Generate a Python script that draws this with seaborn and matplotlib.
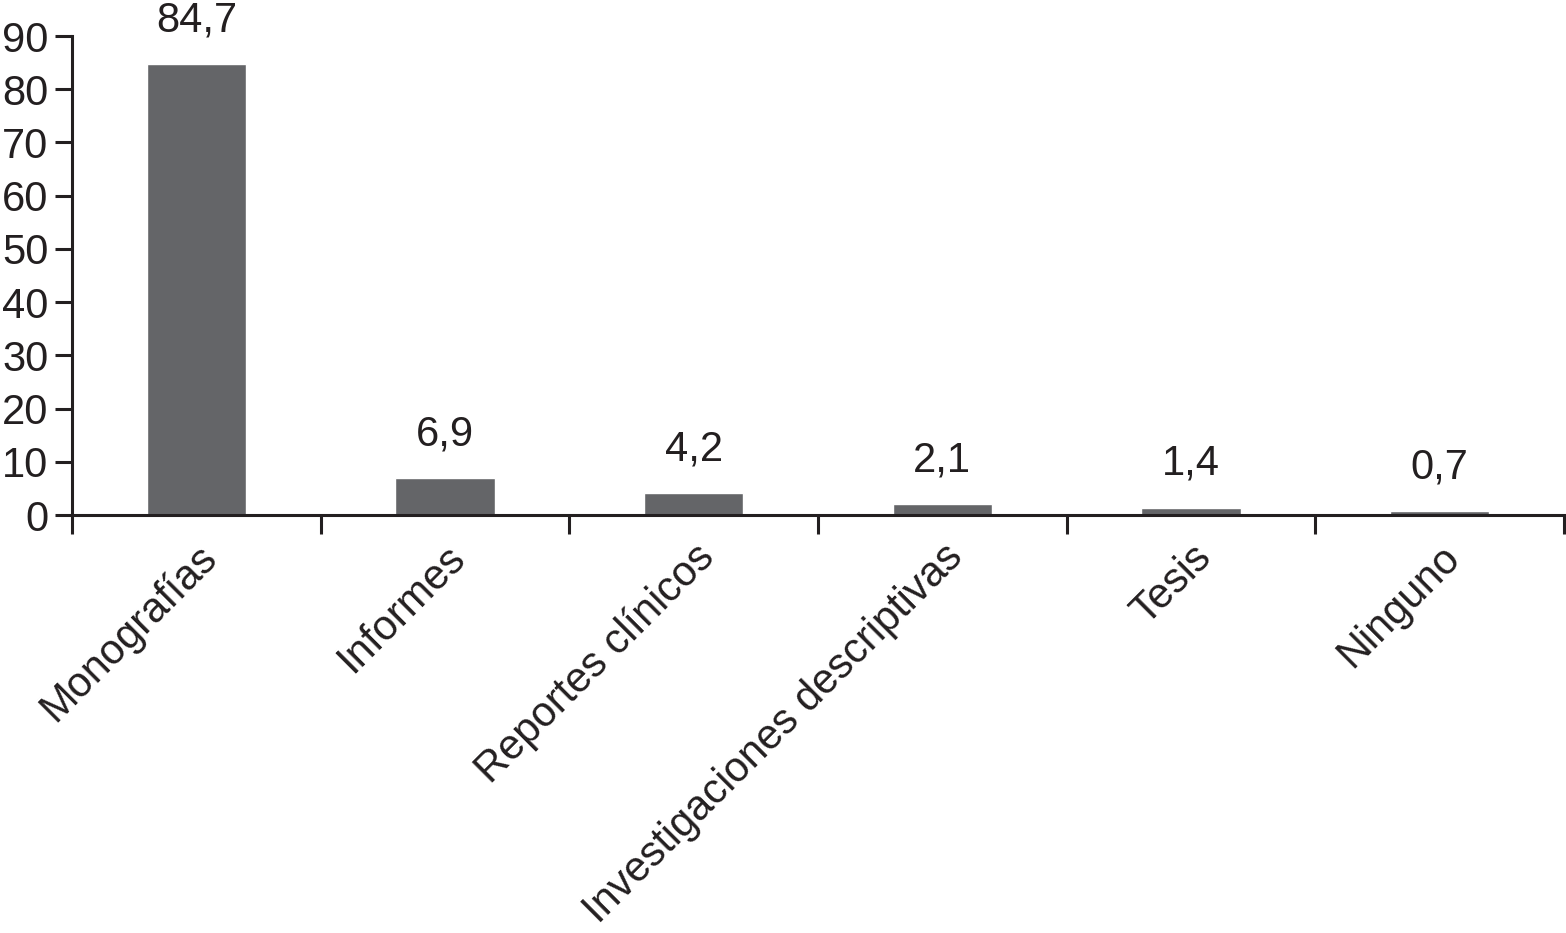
import matplotlib
matplotlib.use("Agg")
import matplotlib.pyplot as plt
import matplotlib.transforms as mtransforms
import seaborn as sns
import pandas as pd
import numpy as np

categorias = ["Monografías", "Informes", "Reportes clínicos",
              "Investigaciones descriptivas", "Tesis", "Ninguno"]
valores = [84.7, 6.9, 4.2, 2.1, 1.4, 0.7]
y_ticks = [0, 10, 20, 30, 40, 50, 60, 70, 80, 90]

sns.set_style("white")
plt.rcParams['font.family'] = ['Liberation Sans', 'DejaVu Sans']

df = pd.DataFrame({"categoria": categorias, "valor": valores})

fig = plt.figure(figsize=(15.66, 9.33), dpi=100)
ax = fig.add_axes([0.046, 0.448, 0.9527, 0.5134])

sns.barplot(data=df, x="categoria", y="valor", color="#646568",
            saturation=1, width=0.4, ax=ax)

ax.set_ylim(0, 90)
ax.set_xlim(-0.5, len(categorias) - 0.5)
ax.set_yticks(y_ticks)
ax.set_yticklabels([str(t) for t in y_ticks], fontsize=30, color="#231f20")
ax.set_xlabel("")
ax.set_ylabel("")

# etiquetas de categoria y ticks en los limites
ax.set_xticks(range(len(categorias)))
ax.set_xticklabels(categorias, rotation=45, ha="right",
                   rotation_mode="anchor", fontsize=30, color="#231f20")
desplazar = mtransforms.ScaledTranslation(10 / 100, 0, fig.dpi_scale_trans)
for lbl in ax.get_xticklabels():
    lbl.set_transform(lbl.get_transform() + desplazar)
ax.set_xticks(np.arange(-0.5, len(categorias), 1.0), minor=True)
ax.tick_params(axis="x", which="major", length=0, pad=16)
ax.tick_params(axis="x", which="minor", length=14, width=2.2,
               direction="out", color="#231f20", bottom=True)
ax.tick_params(axis="y", length=12, width=2.2, direction="out",
               color="#231f20", pad=5, left=True)

for s in ["top", "right"]:
    ax.spines[s].set_visible(False)
for s in ["left", "bottom"]:
    ax.spines[s].set_linewidth(2.2)
    ax.spines[s].set_color("#231f20")

# valores sobre las barras
for i, v in enumerate(valores):
    ax.annotate(f"{v:.1f}".replace(".", ","), xy=(i, v),
                xytext=(0, 17), textcoords="offset points",
                ha="center", va="bottom", fontsize=30, color="#231f20")

fig.savefig("out.png", dpi=100)
